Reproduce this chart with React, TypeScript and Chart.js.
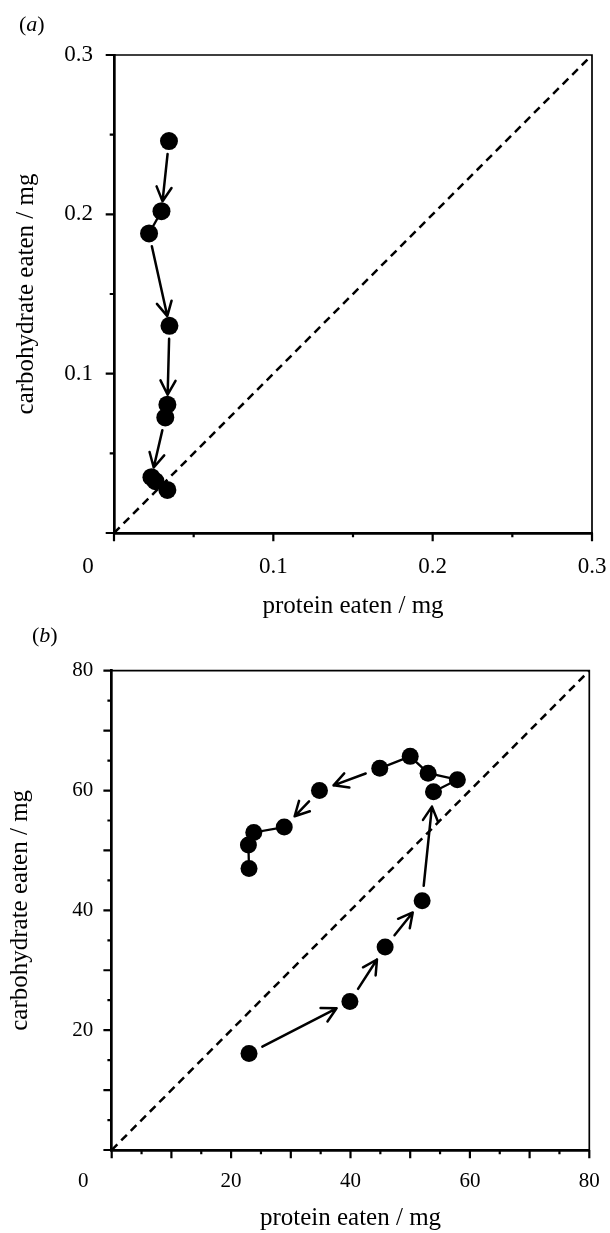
import React, { useEffect, useRef } from 'react';
import { Chart, registerables } from 'chart.js';

Chart.register(...registerables);

const SERIF = '"Liberation Serif", "Times New Roman", Times, serif';

// ---- Panel (a) ----
const aProtein = [0.0345, 0.0298, 0.022, 0.0348, 0.0335, 0.0322, 0.0235, 0.026, 0.0335];
const aCarb = [0.246, 0.202, 0.188, 0.13, 0.0805, 0.0725, 0.035, 0.0325, 0.027];
const aLinks = ['arrow', 'line', 'arrow', 'arrow', 'line', 'arrow', 'line', 'line'];
const aAxisMax = 0.3;
const aTickStep = 0.05;
const aTickLabels = [0.1, 0.2, 0.3];

// ---- Panel (b) ----
const bProtein = [23, 39.9, 45.8, 52, 53.9, 57.9, 53, 50, 44.9, 34.8, 28.9, 23.8, 22.9, 23];
const bCarb = [16.1, 24.8, 33.9, 41.6, 59.8, 61.8, 62.9, 65.7, 63.7, 60, 53.9, 53, 50.9, 47];
const bLinks = ['arrow', 'arrow', 'arrow', 'arrow', 'line', 'line', 'line', 'line', 'arrow', 'arrow', 'line', 'line', 'line'];
const bAxisMax = 80;
const bTickStep = 5;
const bTickLabels = [20, 40, 60, 80];

const xTitle = 'protein eaten / mg';
const yTitle = 'carbohydrate eaten / mg';

type Layout = {
  canvasTop: number; canvasH: number; padTop: number; padRight: number;
  yWidth: number; xHeight: number; tickFont: number; titleFont: number;
  tickPadX: number; tickPadY: number; titlePadY: number; titlePadX: number;
  radius: number; gapStart: number; gapEnd: number;
  letter: string; letterX: number; letterBase: number; letterSize: number; zeroDx: number;
};

const layoutA: Layout = {
  canvasTop: 0, canvasH: 625, padTop: 55, padRight: 18, yWidth: 114, xHeight: 92,
  tickFont: 23, titleFont: 25, tickPadX: 20.2, tickPadY: 21, titlePadY: 11.4, titlePadX: 3.5,
  radius: 9, gapStart: 13, gapEnd: 10,
  letter: 'a', letterX: 19, letterBase: 31, letterSize: 22, zeroDx: -26,
};

const layoutB: Layout = {
  canvasTop: 618, canvasH: 615, padTop: 52.7, padRight: 20.7, yWidth: 111.7, xHeight: 83,
  tickFont: 21, titleFont: 25, tickPadX: 18.4, tickPadY: 18.5, titlePadY: 5.7, titlePadX: 0,
  radius: 8.5, gapStart: 15, gapEnd: 15,
  letter: 'b', letterX: 32, letterBase: 24, letterSize: 22, zeroDx: -28.4,
};

type PanelProps = {
  protein: number[]; carb: number[]; links: string[];
  max: number; step: number; labels: number[]; L: Layout;
};

function Panel({ protein, carb, links, max, step, labels, L }: PanelProps) {
  const ref = useRef<HTMLCanvasElement>(null);

  useEffect(() => {
    const canvas = ref.current;
    if (!canvas) return;
    const pts = protein.map((x, i) => ({ x, y: carb[i] }));
    const isLabel = (v: number) => labels.some((l) => Math.abs(l - v) < step / 100);
    const fmt = (v: number) => (step < 1 ? v.toFixed(1) : String(Math.round(v)));
    const isMajor = (v: number) => Math.round(v / step) % 2 === 0;
    const tickFont = { family: SERIF, size: L.tickFont };
    const titleFont = { family: SERIF, size: L.titleFont };

    const overlay = {
      id: 'overlay',
      beforeDatasetsDraw(chart: any) {
        const { ctx, chartArea: ca } = chart;
        const xs = chart.scales.x;
        const ys = chart.scales.y;
        ctx.save();
        ctx.strokeStyle = '#000';
        ctx.lineWidth = 1.7;
        ctx.beginPath();
        ctx.moveTo(ca.left, ca.top);
        ctx.lineTo(ca.right, ca.top);
        ctx.lineTo(ca.right, ca.bottom);
        ctx.stroke();
        ctx.lineWidth = 2.2;
        ctx.beginPath();
        for (const t of xs.ticks) {
          const p = xs.getPixelForValue(t.value);
          const len = isMajor(t.value) ? 8.3 : 4.3;
          ctx.moveTo(p, ca.bottom);
          ctx.lineTo(p, ca.bottom + len);
        }
        for (const t of ys.ticks) {
          const p = ys.getPixelForValue(t.value);
          const len = isMajor(t.value) ? 8.3 : 4.3;
          ctx.moveTo(ca.left, p);
          ctx.lineTo(ca.left - len, p);
        }
        ctx.stroke();
        ctx.fillStyle = '#000';
        ctx.font = `${L.tickFont}px ${SERIF}`;
        ctx.textAlign = 'center';
        ctx.textBaseline = 'middle';
        ctx.fillText('0', xs.getPixelForValue(0) + L.zeroDx, ca.bottom + L.tickPadX + L.tickFont * 0.6);
        ctx.textAlign = 'left';
        ctx.textBaseline = 'alphabetic';
        const norm = `${L.letterSize}px ${SERIF}`;
        const ital = `italic ${L.letterSize}px ${SERIF}`;
        let lx = L.letterX;
        ctx.font = norm;
        ctx.fillText('(', lx, L.letterBase);
        lx += ctx.measureText('(').width;
        ctx.font = ital;
        ctx.fillText(L.letter, lx, L.letterBase);
        lx += ctx.measureText(L.letter).width;
        ctx.font = norm;
        ctx.fillText(')', lx, L.letterBase);
        ctx.restore();
      },
      afterDatasetsDraw(chart: any) {
        const { ctx } = chart;
        const xs = chart.scales.x;
        const ys = chart.scales.y;
        ctx.save();
        ctx.strokeStyle = '#000';
        ctx.lineWidth = 2.5;
        ctx.lineCap = 'round';
        ctx.lineJoin = 'round';
        const headLen = 16;
        const headAng = (28 * Math.PI) / 180;
        for (let i = 0; i < links.length; i++) {
          if (links[i] !== 'arrow') continue;
          const x0 = xs.getPixelForValue(protein[i]);
          const y0 = ys.getPixelForValue(carb[i]);
          const x1 = xs.getPixelForValue(protein[i + 1]);
          const y1 = ys.getPixelForValue(carb[i + 1]);
          const dx = x1 - x0;
          const dy = y1 - y0;
          const len = Math.hypot(dx, dy);
          const ux = dx / len;
          const uy = dy / len;
          const sx = x0 + ux * L.gapStart;
          const sy = y0 + uy * L.gapStart;
          const tx = x1 - ux * L.gapEnd;
          const ty = y1 - uy * L.gapEnd;
          const ang = Math.atan2(dy, dx);
          ctx.beginPath();
          ctx.moveTo(sx, sy);
          ctx.lineTo(tx, ty);
          for (const s of [-1, 1]) {
            const a = ang + Math.PI + s * headAng;
            ctx.moveTo(tx, ty);
            ctx.lineTo(tx + Math.cos(a) * headLen, ty + Math.sin(a) * headLen);
          }
          ctx.stroke();
        }
        ctx.restore();
      },
    };

    const chart = new Chart(canvas, {
      type: 'scatter',
      data: {
        datasets: [
          {
            type: 'line',
            data: [{ x: 0, y: 0 }, { x: max, y: max }],
            borderColor: '#000',
            borderWidth: 2.5,
            borderDash: [8, 5.5],
            pointRadius: 0,
            order: 3,
          } as any,
          {
            type: 'line',
            data: pts,
            borderColor: '#000',
            borderWidth: 2.3,
            pointRadius: 0,
            segment: {
              borderColor: (c: any) => (links[c.p0DataIndex] === 'line' ? '#000' : 'rgba(0,0,0,0)'),
            },
            order: 2,
          } as any,
          {
            type: 'scatter',
            data: pts,
            pointRadius: L.radius,
            pointBackgroundColor: '#000',
            pointBorderColor: '#000',
            pointBorderWidth: 0,
            showLine: false,
            order: 1,
          } as any,
        ],
      },
      options: {
        responsive: false,
        animation: false,
        devicePixelRatio: 1,
        events: [],
        layout: { padding: { left: 0, top: L.padTop, right: L.padRight, bottom: 0 } },
        plugins: { legend: { display: false }, tooltip: { enabled: false } },
        scales: {
          x: {
            type: 'linear',
            min: 0,
            max,
            afterFit: (s: any) => {
              s.height = L.xHeight;
              s.paddingLeft = 0;
              s.paddingRight = 0;
            },
            grid: { display: false, drawTicks: false },
            border: { display: true, color: '#000', width: 2.7 },
            ticks: {
              stepSize: step,
              autoSkip: false,
              maxRotation: 0,
              padding: L.tickPadX,
              color: '#000',
              font: tickFont,
              callback: (v: any) => (isLabel(Number(v)) ? fmt(Number(v)) : ''),
            },
            title: { display: true, text: xTitle, color: '#000', font: titleFont, padding: { top: 0, bottom: L.titlePadX } },
          },
          y: {
            type: 'linear',
            min: 0,
            max,
            afterFit: (s: any) => {
              s.width = L.yWidth;
              s.paddingTop = 0;
              s.paddingBottom = 0;
            },
            grid: { display: false, drawTicks: false },
            border: { display: true, color: '#000', width: 2.7 },
            ticks: {
              stepSize: step,
              autoSkip: false,
              padding: L.tickPadY,
              color: '#000',
              font: tickFont,
              callback: (v: any) => (isLabel(Number(v)) ? fmt(Number(v)) : ''),
            },
            title: { display: true, text: yTitle, color: '#000', font: titleFont, padding: { top: L.titlePadY, bottom: 0 } },
          },
        } as any,
      },
      plugins: [overlay],
    } as any);
    return () => chart.destroy();
  }, []);

  return (
    <canvas
      ref={ref}
      width={610}
      height={L.canvasH}
      style={{ position: 'absolute', left: 0, top: L.canvasTop }}
    />
  );
}

export default function App() {
  return (
    <div style={{ position: 'absolute', left: 0, top: 0, width: 610, height: 1233, background: '#fff' }}>
      <Panel protein={aProtein} carb={aCarb} links={aLinks} max={aAxisMax} step={aTickStep} labels={aTickLabels} L={layoutA} />
      <Panel protein={bProtein} carb={bCarb} links={bLinks} max={bAxisMax} step={bTickStep} labels={bTickLabels} L={layoutB} />
    </div>
  );
}
